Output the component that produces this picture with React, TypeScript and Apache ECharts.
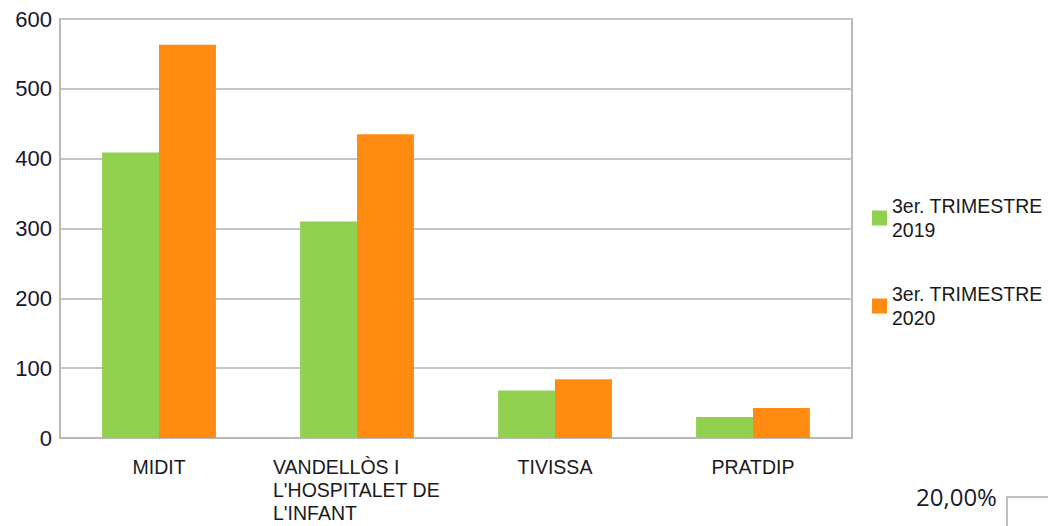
import React, { useEffect, useRef } from "react";
import * as echarts from "echarts";

const categories = ["MIDIT", "VANDELLÒS I\nL'HOSPITALET DE\nL'INFANT", "TIVISSA", "PRATDIP"];
const seriesNames = ["3er. TRIMESTRE\n2019", "3er. TRIMESTRE\n2020"];
const values2019 = [409, 310, 68, 30];
const values2020 = [563, 435, 84, 43];
const yTicks = { min: 0, max: 600, interval: 100 };
const cornerText = "20,00%";

export default function App() {
  const ref = useRef<HTMLDivElement>(null);
  useEffect(() => {
    if (!ref.current) return;
    const chart = echarts.init(ref.current, null, { renderer: "svg" });
    chart.setOption({
      animation: false,
      backgroundColor: "#ffffff",
      grid: {
        left: 60,
        right: 196,
        top: 19,
        bottom: 88,
        show: true,
        borderColor: "#b8b8b8",
        borderWidth: 2,
      },
      legend: {
        orient: "vertical",
        left: 867,
        top: 189,
        itemWidth: 15,
        itemHeight: 15,
        itemGap: 40,
        icon: "rect",
        textStyle: { fontFamily: "Liberation Sans", fontSize: 19.5, color: "#1a1a1a", lineHeight: 24 },
        data: seriesNames,
      },
      xAxis: {
        type: "category",
        data: categories,
        axisLine: { show: true, lineStyle: { color: "#b8b8b8", width: 2 } },
        axisTick: { show: false },
        axisLabel: {
          margin: 17,
          interval: 0,
          fontFamily: "Liberation Sans",
          fontSize: 19.5,
          color: "#1a1a1a",
          lineHeight: 23,
          formatter: (v: string) =>
            v
              .split("\n")
              .map((l) => (v.includes("\n") ? `{l|${l}}` : l))
              .join("\n"),
          rich: {
            l: { width: 168, align: "left", fontFamily: "Liberation Sans", fontSize: 19.5, color: "#1a1a1a", lineHeight: 23 },
          },
        },
      },
      yAxis: {
        type: "value",
        min: yTicks.min,
        max: yTicks.max,
        interval: yTicks.interval,
        axisLine: { show: true, lineStyle: { color: "#b8b8b8", width: 2 } },
        axisTick: { show: false },
        splitLine: { lineStyle: { color: "#c4c4c4", width: 2 } },
        axisLabel: {
          margin: 8,
          fontFamily: "Liberation Sans",
          fontSize: 22,
          color: "#161630",
        },
      },
      series: [
        {
          name: seriesNames[0],
          type: "bar",
          data: values2019,
          barGap: "0%",
          barCategoryGap: "42.5%",
          itemStyle: { color: "#92D050" },
        },
        {
          name: seriesNames[1],
          type: "bar",
          data: values2020,
          barGap: "0%",
          barCategoryGap: "42.5%",
          itemStyle: { color: "#FF8C11" },
        },
      ],
      graphic: [
        {
          type: "text",
          x: 916,
          y: 496,
          style: { text: cornerText, fontFamily: "Open Sans", fontSize: 24, fill: "#1a1a30", verticalAlign: "middle" },
        },
        {
          type: "rect",
          shape: { x: 1007, y: 497, width: 80, height: 60 },
          style: { fill: "#ffffff", stroke: "#aaaaaa", lineWidth: 1.5 },
        },
      ],
    });
    return () => chart.dispose();
  }, []);
  return (
    <div
      ref={ref}
      style={{ position: "fixed", left: 0, top: 0, width: 1048, height: 526 }}
    />
  );
}
